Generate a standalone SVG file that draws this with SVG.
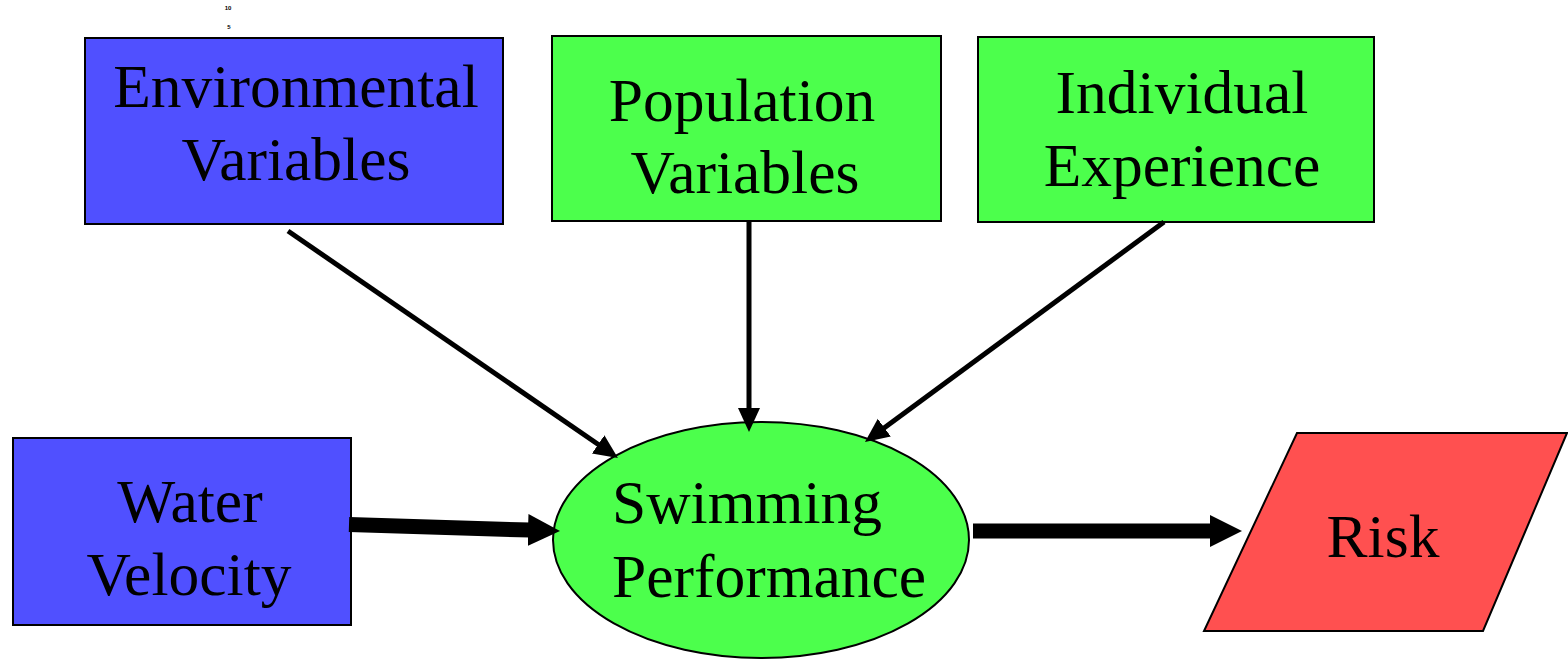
<svg xmlns="http://www.w3.org/2000/svg" width="1568" height="659" viewBox="0 0 1568 659">
<style>
.lbl{font-family:"Liberation Serif","Times New Roman",serif;font-size:61.5px;fill:#000;text-anchor:middle}
.blue{fill:#5050FF;stroke:#000;stroke-width:2}
.green{fill:#4CFF4C;stroke:#000;stroke-width:2}
.red{fill:#FF5050;stroke:#000;stroke-width:2}
.thin{stroke:#000;stroke-width:5;fill:none;marker-end:url(#ah)}
.thick{stroke:#000;stroke-width:15;fill:none;marker-end:url(#ahb)}
.tiny{font-family:"Liberation Sans",Arial,sans-serif;font-size:6px;font-weight:bold;fill:#000;text-anchor:middle}
</style>
<defs>
<marker id="ah" markerUnits="userSpaceOnUse" markerWidth="26" markerHeight="24" refX="2" refY="11" orient="auto" viewBox="0 0 26 24">
<path d="M0,0 L24,11 L0,22 z" fill="#000"/>
</marker>
<marker id="ahb" markerUnits="userSpaceOnUse" markerWidth="34" markerHeight="34" refX="2" refY="16" orient="auto" viewBox="0 0 34 34">
<path d="M0,0 L32,16 L0,32 z" fill="#000"/>
</marker>
</defs>
<rect width="1568" height="659" fill="#fff"/>
<text class="tiny" x="228" y="10">10</text>
<text class="tiny" x="229" y="29">5</text>
<g id="environmental">
<rect class="blue" x="85" y="38" width="418" height="186"/>
<text class="lbl" x="296" y="107">Environmental</text>
<text class="lbl" x="296" y="180">Variables</text>
</g>
<g id="population">
<rect class="green" x="552" y="36" width="389" height="185"/>
<text class="lbl" x="742" y="121">Population</text>
<text class="lbl" x="745" y="193">Variables</text>
</g>
<g id="individual">
<rect class="green" x="978" y="37" width="396" height="185"/>
<text class="lbl" x="1182" y="113">Individual</text>
<text class="lbl" x="1182" y="186">Experience</text>
</g>
<g id="water">
<rect class="blue" x="13" y="438" width="338" height="187"/>
<text class="lbl" x="190" y="522">Water</text>
<text class="lbl" x="189" y="595">Velocity</text>
</g>
<g id="swimming">
<ellipse class="green" cx="761" cy="540" rx="208" ry="118"/>
<text class="lbl" x="612" y="523" style="text-anchor:start">Swimming</text>
<text class="lbl" x="612" y="597" style="text-anchor:start">Performance</text>
</g>
<g id="risk">
<polygon class="red" points="1297,433 1567,433 1483,631 1204,631"/>
<text class="lbl" x="1383" y="557">Risk</text>
</g>
<g id="connectors">
<line class="thin" x1="288" y1="231" x2="599.8" y2="445.5"/>
<line class="thin" x1="749" y1="222" x2="749" y2="410"/>
<line class="thin" x1="1164" y1="222" x2="882.7" y2="428.9"/>
<line class="thick" x1="349" y1="524.5" x2="530" y2="530.1"/>
<line class="thick" x1="973" y1="531" x2="1212" y2="531"/>
</g>
</svg>
